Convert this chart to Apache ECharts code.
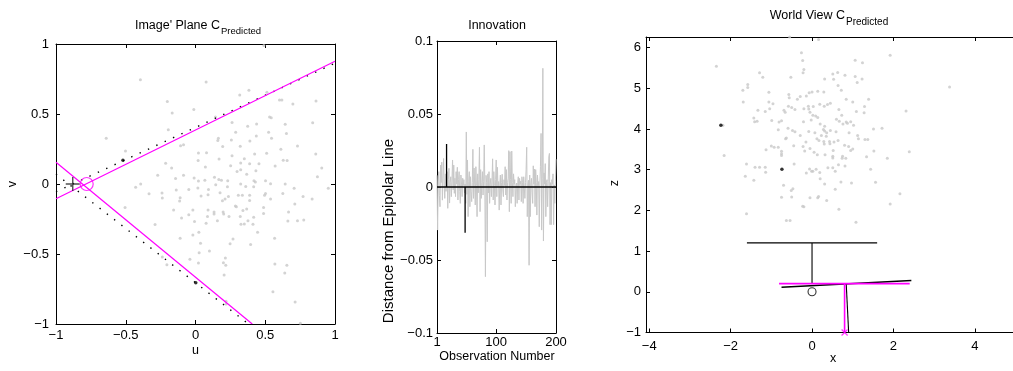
<!DOCTYPE html>
<html>
<head>
<meta charset="utf-8">
<script src="https://cdn.jsdelivr.net/npm/echarts@6/dist/echarts.min.js"></script>
<style>
  html, body { margin: 0; padding: 0; background: #fff; }
  #chart { width: 1013px; height: 371px; }
</style>
</head>
<body>
<div id="chart"></div>
<script>
// ---- Image' plane (u, v) ----
const imagePoints = [
  [0.49,0.99],[-0.395,0.745],[0.076,0.729],[0.383,0.669],[0.317,0.636],[0.512,0.655],[0.602,0.6],[0.619,0.6],
  [0.864,0.593],[0.698,0.571],[-0.202,0.59],[-0.012,0.533],[-0.167,0.507],[0.143,0.479],[0.531,0.479],[0.543,0.474],
  [0.262,0.44],[0.374,0.412],[0.438,0.429],[0.643,0.426],[0.84,0.438],[-0.195,0.388],[0.288,0.369],[0.524,0.369],
  [0.652,0.36],[0.436,0.343],[0.164,0.326],[0.16,0.31],[0.545,0.326],[-0.64,0.326],[0.257,0.314],[0.39,0.307],
  [-0.086,0.281],[-0.107,0.274],[0.195,0.267],[0.321,0.269],[0.731,0.271],[-0.502,0.236],[0.021,0.221],[0.079,0.224],
  [0.262,0.202],[0.424,0.214],[0.51,0.219],[0.612,0.248],[0.862,0.214],[0.35,0.181],[0.019,0.167],[0.169,0.179],
  [0.629,0.169],[0.657,0.167],[-0.214,0.148],[-0.171,0.114],[0.071,0.121],[0.252,0.131],[0.324,0.15],[0.388,0.145],
  [0.455,0.145],[0.298,0.09],[0.324,0.102],[0.367,0.069],[0.433,0.095],[0.571,0.129],[0.905,0.114],[0.874,0.052],
  [-0.271,0.062],[-0.086,0.062],[-0.143,0.04],[-0.01,0.043],[0.021,0.021],[0.067,0.026],[0.136,0.048],[0.167,0.033],
  [0.186,0.026],[0.231,0.024],[0.324,0.0],[0.419,0.024],[0.429,0.014],[0.502,0.024],[0.643,0.0],[-0.393,0.0],
  [-0.429,-0.024],[-0.333,-0.069],[-0.24,-0.064],[-0.238,-0.1],[-0.138,-0.043],[-0.048,-0.04],[0.017,-0.029],[0.093,-0.04],
  [0.145,-0.005],[0.176,-0.062],[0.229,-0.019],[0.36,-0.017],[0.417,-0.019],[0.502,-0.067],[0.495,-0.081],[0.538,0.002],
  [0.626,-0.067],[0.707,-0.031],[0.952,-0.031],[-0.11,-0.098],[-0.114,-0.121],[0.04,-0.086],[0.09,-0.076],[0.193,-0.119],
  [0.212,-0.107],[0.236,-0.09],[0.307,-0.081],[0.336,-0.081],[0.388,-0.081],[0.388,-0.117],[0.538,-0.107],[0.771,-0.09],
  [0.836,-0.107],[0.712,-0.143],[-0.505,-0.167],[-0.157,-0.186],[-0.019,-0.186],[0.09,-0.186],[0.133,-0.2],[0.133,-0.214],
  [0.198,-0.2],[0.202,-0.214],[0.286,-0.157],[0.293,-0.162],[0.34,-0.19],[0.367,-0.179],[0.488,-0.167],[0.488,-0.21],
  [0.667,-0.2],[-0.048,-0.219],[-0.1,-0.243],[-0.007,-0.267],[0.086,-0.233],[0.157,-0.262],[0.24,-0.233],[0.321,-0.233],
  [0.326,-0.288],[0.35,-0.286],[0.417,-0.238],[0.412,-0.288],[0.376,-0.262],[0.662,-0.264],[0.731,-0.262],[0.776,-0.257],
  [-0.29,-0.29],[0.076,-0.281],[0.024,-0.345],[-0.019,-0.364],[0.445,-0.345],[0.567,-0.388],[-0.11,-0.388],[0.269,-0.393],
  [0.036,-0.424],[0.248,-0.426],[0.395,-0.433],[0.1,-0.479],[0.026,-0.491],[-0.04,-0.538],[0.214,-0.529],[0.021,-0.564],
  [0.2,-0.562],[0.217,-0.581],[-0.238,-0.521],[-0.205,-0.576],[0.569,-0.571],[0.655,-0.581],[0.64,-0.636],[0.205,-0.65],
  [0.555,-0.769],[0.714,-0.843],[0.219,-0.838],[0.219,-0.857],[0.752,-0.995]
];
const imageMatched = [[-0.52, 0.17], [0.002, -0.705]];
const epipolarPredUpper = [[-1, -0.105], [1, 0.877]];
const epipolarPredLower = [[-1, 0.155], [0.407, -1]];
const epipolarTrueUpper = [[-1, -0.055], [1, 0.863]];
const epipolarTrueLower = [[-1, 0.07], [0.38, -1]];
const epipolePred = [[-0.78, 0]];
const epipoleTrue = [[-0.88, 0]];
const uvTicks = [-1, -0.5, 0, 0.5, 1];

// ---- Innovation ----
const innovation = [
  0.008,-0.0295,0.004,0.0105,-0.006,-0.0135,0.015,0.003,0.017,-0.009,
  0.006,0.0195,0.002,-0.0078,0.009,-0.003,0.004,0.0105,-0.0146,0.005,
  0.0128,-0.011,0.003,0.007,-0.0066,0.004,0.0185,-0.002,0.015,-0.0043,
  0.006,-0.0066,0.0105,0.002,0.0135,-0.0089,0.005,0.0105,-0.003,-0.0112,
  0.0082,0.002,-0.0066,0.006,0.001,0.005,-0.004,0.002,-0.0112,0.0377,
  -0.005,0.0185,-0.0203,0.004,0.0105,-0.0135,0.007,-0.003,-0.010,0.003,
  0.0258,-0.0078,0.013,0.002,-0.0123,0.0139,0.001,-0.0203,0.009,-0.004,
  0.005,0.0272,-0.0169,0.0119,-0.0078,0.003,0.0105,-0.0055,0.004,0.0288,
  0.002,-0.0614,0.008,0.003,-0.0375,0.009,-0.004,0.0105,-0.0112,0.002,
  0.0059,-0.0066,0.004,0.0193,-0.0089,0.0105,0.001,-0.0123,0.005,0.0185,
  -0.0066,0.0135,0.0,0.0037,-0.0158,0.002,0.0082,-0.0123,0.003,0.0087,
  -0.002,-0.0066,0.005,0.001,0.0139,-0.0055,0.0119,-0.0089,0.003,0.006,
  0.0249,-0.0169,0.0242,0.005,-0.0112,0.0246,0.003,-0.0066,0.009,0.002,
  0.005,-0.0135,0.001,0.0027,-0.0112,0.003,0.007,-0.0089,0.0059,0.002,
  0.004,-0.010,0.007,0.003,-0.0112,0.007,0.0059,-0.0078,0.003,0.0119,
  0.0272,-0.0203,0.002,0.0046,-0.0536,0.0082,-0.0203,0.003,0.0059,-0.004,
  -0.0112,0.0145,0.002,0.0123,-0.0135,0.0119,0.003,-0.0192,0.0082,0.001,
  0.0037,-0.0272,0.002,0.0139,0.0367,-0.0295,0.006,0.0813,-0.037,0.0096,
  0.002,0.016,-0.0203,0.003,0.005,-0.0135,0.004,0.0206,0.023,-0.0258,
  0.003,-0.0258,0.005,0.002,0.009,-0.0258,0.0014,-0.0112,0.004,0.019
];
const zeroLine = [[1, 0], [200, 0]];
const highlightStems = [[[17, 0], [17, 0.0295]], [[48, 0], [48, -0.0313]]];
const obsTicks = [1, 100, 200];
const innovTicks = [-0.1, -0.05, 0, 0.05, 0.1];

// ---- World view (x, z) ----
const worldPoints = [
  [0.16,6.2],[-0.26,5.87],[-0.23,5.68],[-2.35,5.54],[1.92,5.81],[1.06,5.69],[1.24,5.63],[-0.2,5.46],[-0.22,5.38],
  [-1.29,5.38],[-1.21,5.27],[-0.52,5.27],[0.51,5.35],[0.63,5.39],[0.81,5.32],[0.31,5.23],[0.53,5.22],[1.06,5.29],
  [1.11,5.14],[1.23,5.23],[-1.58,5.09],[-1.58,5.02],[-1.7,4.95],[0.64,5.07],[0.72,4.95],[3.38,5.03],[-1.06,4.9],
  [-0.57,4.85],[-0.56,4.77],[-0.07,4.89],[0.0,4.91],[0.14,4.93],[-0.14,4.81],[0.29,4.91],[-0.29,4.8],[-0.36,4.73],
  [0.84,4.73],[1.39,4.73],[1.0,4.66],[-1.69,4.66],[-1.06,4.66],[-0.96,4.62],[-1.04,4.5],[-0.58,4.56],[-0.5,4.53],
  [-0.42,4.48],[-0.69,4.46],[-0.66,4.41],[-1.33,4.46],[-1.15,4.43],[-0.2,4.5],[-0.09,4.56],[-0.08,4.49],[0.03,4.55],
  [0.19,4.61],[0.3,4.56],[0.38,4.6],[0.45,4.63],[0.66,4.48],[1.29,4.55],[1.28,4.4],[1.09,4.43],[-0.05,4.41],[0.02,4.34],
  [0.09,4.32],[0.14,4.28],[0.73,4.34],[-1.43,4.27],[-1.35,4.19],[-1.41,4.18],[-0.99,4.21],[-0.81,4.17],[-0.75,4.2],
  [-0.21,4.18],[-0.02,4.22],[0.6,4.24],[0.67,4.19],[0.76,4.12],[0.84,4.17],[0.87,4.14],[0.95,4.18],[1.02,4.09],
  [0.2,4.12],[0.31,4.07],[-2.19,4.09],[-0.83,3.98],[-0.59,4.02],[-0.48,3.96],[-0.42,3.93],[-0.08,3.94],[0.07,3.91],
  [0.28,3.99],[0.31,3.95],[0.36,3.91],[0.45,3.96],[0.59,3.93],[0.91,3.91],[1.51,4.0],[1.72,4.02],[2.31,4.44],
  [-0.63,3.78],[-0.65,3.76],[-0.29,3.84],[0.23,3.84],[0.35,3.82],[0.12,3.76],[0.17,3.72],[0.29,3.69],[0.3,3.63],
  [0.43,3.69],[0.44,3.64],[0.54,3.68],[0.64,3.72],[1.12,3.84],[1.14,3.76],[1.3,3.74],[1.37,3.74],[-0.15,3.68],
  [-0.45,3.59],[-0.22,3.57],[-1.0,3.58],[-0.93,3.55],[-0.83,3.55],[-1.13,3.49],[-0.18,3.46],[-0.05,3.52],[0.8,3.6],
  [0.9,3.57],[1.0,3.51],[0.95,3.47],[0.52,3.47],[0.05,3.43],[0.13,3.37],[0.32,3.37],[0.51,3.33],[0.51,3.29],
  [0.75,3.33],[0.83,3.28],[0.74,3.28],[1.52,3.46],[1.34,3.32],[-0.75,3.45],[-0.75,3.39],[-0.75,3.35],[-2.16,3.35],
  [2.39,3.44],[1.85,3.28],[-0.44,3.14],[-1.61,3.14],[-1.4,3.06],[-1.29,3.06],[-1.15,3.06],[-1.14,2.94],[-1.64,2.84],
  [-1.43,2.74],[-0.06,3.02],[-0.01,2.96],[0.02,2.96],[0.1,3.01],[-0.14,2.92],[0.19,2.93],[0.39,3.05],[0.51,3.05],
  [0.57,2.96],[0.65,3.12],[0.81,3.09],[0.2,2.78],[0.31,2.65],[0.71,2.7],[0.97,2.67],[1.44,3.01],[1.56,2.69],
  [-0.7,2.62],[-0.47,2.53],[-0.51,2.49],[0.57,2.52],[2.16,2.41],[-0.75,2.32],[-0.5,2.33],[-0.05,2.31],[0.14,2.31],
  [0.16,2.34],[0.36,2.24],[1.92,2.16],[-0.23,2.1],[-0.2,2.09],[0.66,2.03],[-1.61,1.92],[-0.63,1.75],[-0.54,1.75],
  [1.08,1.71],[-0.55,6.26]
];
const worldMatched = [[-2.24, 4.09], [-0.74, 3.01]];
const cameraTrueBar = [[-1.6, 1.2], [1.6, 1.2]];
const cameraTrueAxis = [[0, 1.2], [0, 0.2]];
const cameraTrueCentre = [[0, 0]];
const cameraEstPlane = [[-0.75, 0.11], [2.44, 0.28]];
const cameraEstAxis = [[0.84, 0.2], [0.9, -1]];
const cameraPredPlane = [[-0.81, 0.2], [2.4, 0.2]];
const cameraPredAxis = [[0.8, 0.2], [0.8, -1]];
const cameraPredCentre = [[0.8, -1]];
const worldXTicks = [-4, -2, 0, 2, 4];
const worldZTicks = [-1, 0, 1, 2, 3, 4, 5, 6];

const FONT = "'Liberation Sans', Arial, Helvetica, sans-serif";
const GRAY = '#c8c8c8';
const MAGENTA = '#ff00ff';
const TICK_FONT = 13;
const LABEL_FONT = 12.5;

const fmt = (v) => (v < 0 ? '\u2212' + String(-v) : String(v));

// one labelled axis plus its mirrored twin, MATLAB box style with inward ticks
function axisPair(gridIndex, min, max, ticks, positions, margin) {
  const base = (pos, labelled) => ({
    type: 'value', gridIndex, min, max, position: pos,
    axisLine: { show: true, onZero: false, lineStyle: { color: '#000', width: 1 } },
    axisTick: { show: true, inside: true, length: 4, customValues: ticks, lineStyle: { color: '#000' } },
    axisLabel: {
      show: labelled, customValues: ticks, formatter: fmt, margin,
      color: '#000', fontSize: TICK_FONT, fontFamily: FONT
    },
    splitLine: { show: false }
  });
  return [base(positions[0], true), base(positions[1], false)];
}

function seg(data, xi, color, width, type) {
  return {
    type: 'line', xAxisIndex: xi, yAxisIndex: xi, data, symbol: 'none',
    lineStyle: { color, width, type: type || 'solid' }, silent: true, z: 3
  };
}
function dots(data, xi, color, size, z) {
  return {
    type: 'scatter', xAxisIndex: xi, yAxisIndex: xi, data, symbol: 'circle',
    symbolSize: size, itemStyle: { color }, silent: true, z: z || 2
  };
}
function text(x, y, str, size, align, extra) {
  return Object.assign({
    type: 'text', x, y, silent: true,
    style: { text: str, fill: '#000', font: size + 'px ' + FONT, align, verticalAlign: 'middle' }
  }, extra || {});
}

const chart = echarts.init(document.getElementById('chart'), null, { renderer: 'canvas' });

chart.setOption({
  animation: false,
  backgroundColor: '#fff',
  grid: [
    { left: 56, top: 44, width: 279, height: 280, outerBoundsMode: 'none' },
    { left: 437, top: 41, width: 119, height: 292, outerBoundsMode: 'none' },
    { left: 646, top: 37, width: 387, height: 295.5, outerBoundsMode: 'none' }
  ],
  xAxis: [
    ...axisPair(0, -1, 1, uvTicks, ['bottom', 'top'], 5),
    ...axisPair(1, 1, 200, obsTicks, ['bottom', 'top'], 3),
    ...axisPair(2, -4.08, 5.43, worldXTicks, ['bottom', 'top'], 7)
  ],
  yAxis: [
    ...axisPair(0, -1, 1, uvTicks, ['left', 'right'], 7),
    ...axisPair(1, -0.1, 0.1, innovTicks, ['left', 'right'], 4),
    ...axisPair(2, -1, 6.26, worldZTicks, ['left', 'right'], 5)
  ],
  series: [
    // image plane
    dots(imagePoints, 0, GRAY, 3),
    seg(epipolarTrueUpper, 0, '#000', 1.4, [1.4, 7.8]),
    seg(epipolarTrueLower, 0, '#000', 1.4, [1.4, 7.8]),
    seg(epipolarPredUpper, 0, MAGENTA, 1.2),
    seg(epipolarPredLower, 0, MAGENTA, 1.2),
    dots(imageMatched, 0, '#000', 3.5, 4),
    {
      type: 'scatter', xAxisIndex: 0, yAxisIndex: 0, data: epipoleTrue, silent: true, z: 4,
      symbol: 'path://M0,-10L0,10M-10,0L10,0', symbolSize: 14,
      itemStyle: { color: 'none', borderColor: '#222', borderWidth: 1.4 }
    },
    {
      type: 'scatter', xAxisIndex: 0, yAxisIndex: 0, data: epipolePred, silent: true, z: 4,
      symbol: 'circle', symbolSize: 13,
      itemStyle: { color: 'rgba(0,0,0,0)', borderColor: MAGENTA, borderWidth: 1.2 }
    },
    // innovation
    {
      type: 'line', xAxisIndex: 2, yAxisIndex: 2, symbol: 'none', silent: true, z: 2,
      data: innovation.map((v, i) => [i + 1, v]),
      lineStyle: { color: GRAY, width: 1 }
    },
    seg(zeroLine, 2, '#000', 1.3),
    seg(highlightStems[0], 2, '#000', 1.3),
    seg(highlightStems[1], 2, '#000', 1.3),
    // world view
    dots(worldPoints, 4, GRAY, 3),
    dots(worldMatched, 4, '#000', 3.5, 4),
    seg(cameraTrueBar, 4, '#000', 1.3),
    seg(cameraTrueAxis, 4, '#000', 1.1),
    seg(cameraEstPlane, 4, '#000', 1.5),
    seg(cameraEstAxis, 4, '#000', 1.1),
    seg(cameraPredPlane, 4, MAGENTA, 1.6),
    seg(cameraPredAxis, 4, MAGENTA, 1.6),
    {
      type: 'scatter', xAxisIndex: 4, yAxisIndex: 4, data: cameraTrueCentre, silent: true, z: 4,
      symbol: 'circle', symbolSize: 8,
      itemStyle: { color: 'rgba(0,0,0,0)', borderColor: '#000', borderWidth: 1.1 }
    },
    {
      type: 'scatter', xAxisIndex: 4, yAxisIndex: 4, data: cameraPredCentre, silent: true, z: 5,
      symbol: 'path://M-10,-10L10,10M-10,10L10,-10', symbolSize: 6, clip: false,
      itemStyle: { color: 'none', borderColor: MAGENTA, borderWidth: 1.2 }
    }
  ],
  graphic: [
    text(220, 25.5, "Image' Plane C", LABEL_FONT, 'right'),
    text(221, 31.5, 'Predicted', 9.5, 'left'),
    text(497, 25.5, 'Innovation', LABEL_FONT, 'center'),
    text(845, 16, 'World View C', LABEL_FONT, 'right'),
    text(846, 22.5, 'Predicted', 10, 'left'),
    text(195.5, 351, 'u', LABEL_FONT, 'center'),
    text(13, 184, 'v', LABEL_FONT, 'center', { rotation: Math.PI / 2 }),
    text(497, 357, 'Observation Number', LABEL_FONT, 'center'),
    text(389, 231, 'Distance from Epipolar Line', 15, 'center', { rotation: Math.PI / 2 }),
    text(833, 359, 'x', LABEL_FONT, 'center'),
    text(615, 183, 'z', LABEL_FONT, 'center', { rotation: Math.PI / 2 })
  ]
});
</script>
</body>
</html>
